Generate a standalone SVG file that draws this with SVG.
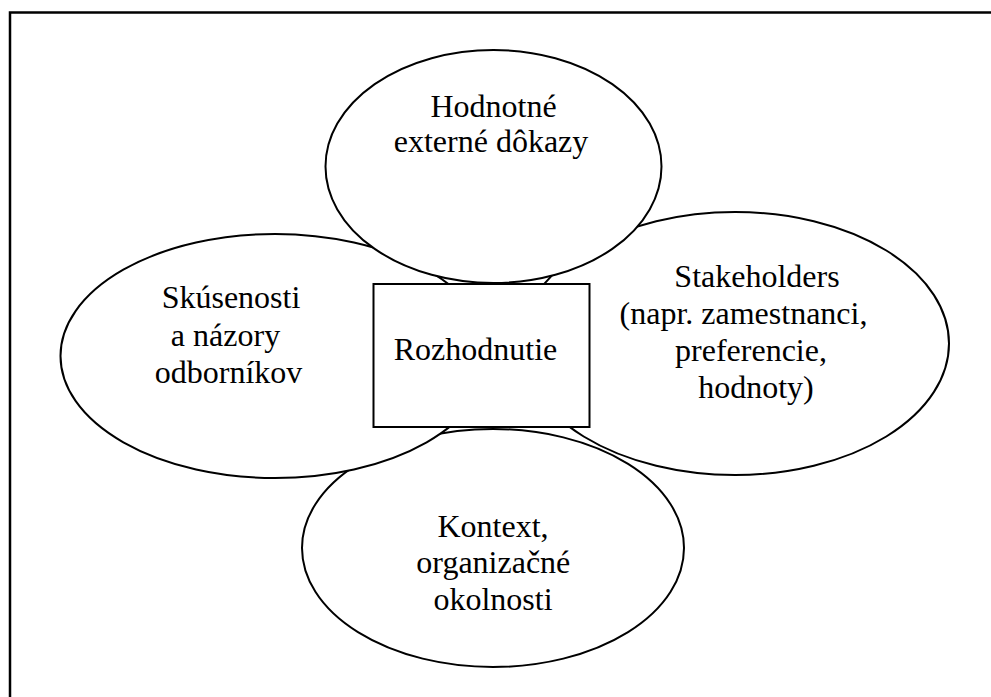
<svg xmlns="http://www.w3.org/2000/svg" width="991" height="697" viewBox="0 0 991 697">
<style>
.sh{fill:#fff;stroke:#000;stroke-width:2}
.ln{fill:none;stroke:#000;stroke-width:2}
text{font-family:'Liberation Serif','DejaVu Serif',serif;font-size:32px;fill:#000;text-anchor:middle}
</style>
<rect width="991" height="697" fill="#fff"/>
<path d="M10 697 V12.5 H991" fill="none" stroke="#000" stroke-width="2.5"/>
<g id="kontext">
<ellipse class="sh" cx="493" cy="548" rx="191" ry="119"/>
</g>
<g id="stakeholders">
<ellipse class="ln" cx="735" cy="343.5" rx="214" ry="131.5"/>
</g>
<g id="skusenosti">
<ellipse class="sh" cx="275" cy="356" rx="214.5" ry="122"/>
</g>
<g id="hodnotne">
<ellipse class="sh" cx="493.5" cy="166.5" rx="168" ry="116.5"/>
</g>
<g id="connectors"></g>
<g id="rozhodnutie">
<rect class="sh" x="373.5" y="284" width="216" height="143"/>
<text x="475.5" y="360" font-family="Liberation Serif, serif">Rozhodnutie</text>
</g>
<g id="labels" font-family="Liberation Serif, serif">
<text x="493.5" y="117">Hodnotné</text>
<text x="491" y="152">externé dôkazy</text>
<text x="231" y="308">Skúsenosti</text>
<text x="225.5" y="346">a názory</text>
<text x="228.5" y="383">odborníkov</text>
<text x="757" y="287">Stakeholders</text>
<text x="743.5" y="323.5">(napr. zamestnanci,</text>
<text x="751" y="360.5">preferencie,</text>
<text x="756" y="398">hodnoty)</text>
<text x="493" y="536.5">Kontext,</text>
<text x="493.3" y="573">organizačné</text>
<text x="493" y="610">okolnosti</text>
</g>
</svg>
